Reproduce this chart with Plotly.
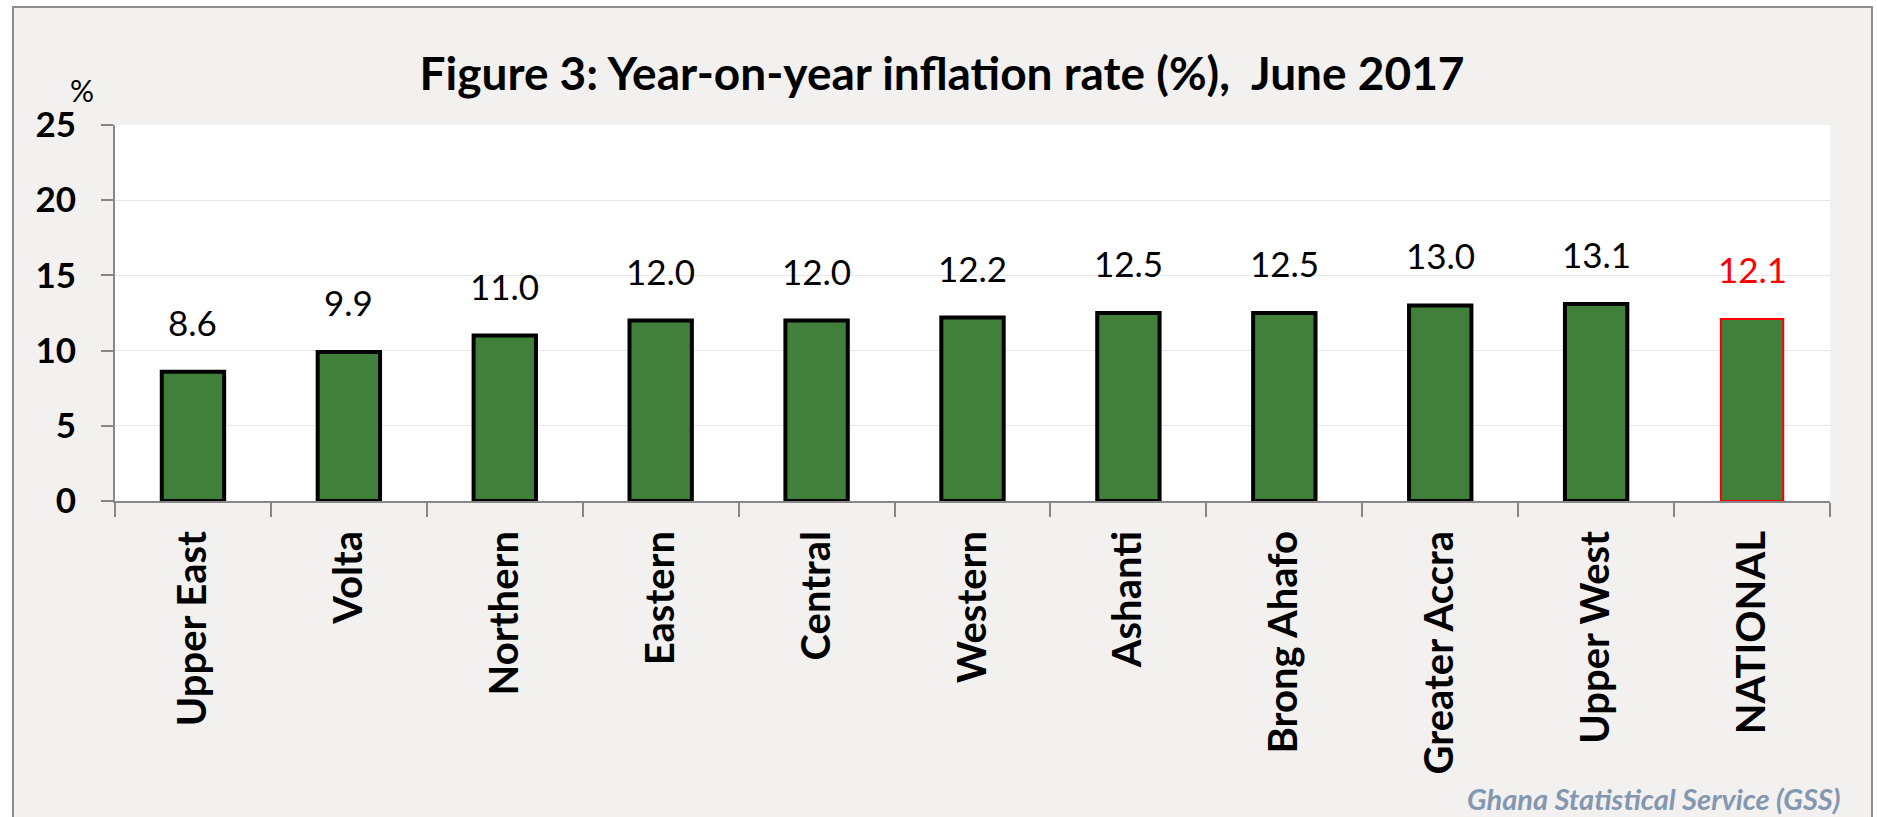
import plotly.graph_objects as go

regions = ["Upper East", "Volta", "Northern", "Eastern", "Central", "Western",
           "Ashanti", "Brong Ahafo", "Greater Accra", "Upper West", "NATIONAL"]
inflation = [8.6, 9.9, 11.0, 12.0, 12.0, 12.2, 12.5, 12.5, 13.0, 13.1, 12.1]
y_ticks = [0, 5, 10, 15, 20, 25]

W, H = 1877, 817
L, R, T, B = 115, 47, 125, 316
PW = W - L - R
PH = H - T - B


def px_x(p):
    return (p - L) / PW


def px_y(p):
    return (H - B - p) / PH


GREEN = "#41803A"
line_colors = ["#000000"] * (len(regions) - 1) + ["#FF0000"]
line_widths = [4] * (len(regions) - 1) + [2]
label_colors = ["#000000"] * (len(regions) - 1) + ["#FF0000"]

fig = go.Figure()
fig.add_trace(go.Bar(
    x=regions, y=inflation, width=0.40,
    marker=dict(color=GREEN, line=dict(color=line_colors, width=line_widths)),
    hoverinfo="x+y",
))

annotations = []
for r, v, c in zip(regions, inflation, label_colors):
    annotations.append(dict(
        x=r, y=v, xref="x", yref="y", text=f"{v:.1f}", showarrow=False,
        yanchor="bottom", yshift=27,
        font=dict(family="Lato", size=35, color=c),
    ))

annotations.append(dict(
    x=px_x(82), y=px_y(90), xref="paper", yref="paper", text="%",
    showarrow=False, xanchor="center", yanchor="middle",
    font=dict(family="Lato", size=30, color="#000000"),
))
annotations.append(dict(
    x=px_x(1843), y=px_y(798), xref="paper", yref="paper",
    text="<b><i>Ghana Statistical Service (GSS)</i></b>",
    showarrow=False, xanchor="right", yanchor="middle",
    font=dict(family="Lato", size=29, color="#8497B0"),
))

shapes = [
    # white strips outside the chart frame
    dict(type="rect", xref="paper", yref="paper", x0=px_x(-5), x1=px_x(13),
         y0=px_y(H + 5), y1=px_y(-5), fillcolor="white", line=dict(width=0), layer="above"),
    dict(type="rect", xref="paper", yref="paper", x0=px_x(-5), x1=px_x(W + 5),
         y0=px_y(7), y1=px_y(-5), fillcolor="white", line=dict(width=0), layer="above"),
    dict(type="rect", xref="paper", yref="paper", x0=px_x(1873), x1=px_x(W + 5),
         y0=px_y(H + 5), y1=px_y(-5), fillcolor="white", line=dict(width=0), layer="above"),
    # chart frame
    dict(type="rect", xref="paper", yref="paper", x0=px_x(13), x1=px_x(1872),
         y0=px_y(H + 2), y1=px_y(7), line=dict(color="#8C8C8C", width=2),
         fillcolor="rgba(0,0,0,0)", layer="above"),
]

fig.update_layout(
    width=W, height=H,
    margin=dict(l=L, r=R, t=T, b=B, pad=0),
    paper_bgcolor="#F3F1EF",
    plot_bgcolor="#FFFFFF",
    showlegend=False,
    title=dict(
        text="<b>Figure 3: Year-on-year inflation rate (%),  June 2017</b>",
        x=942 / W, xref="container", xanchor="center",
        y=1 - 74 / H, yref="container", yanchor="middle",
        font=dict(family="Lato", size=46, color="#000000"),
    ),
    annotations=annotations,
    shapes=shapes,
    bargap=0.6,
)

fig.update_yaxes(
    range=[0, 25], tickvals=y_ticks, ticktext=[str(t) for t in y_ticks],
    showgrid=True, gridcolor="#E8E8E8", gridwidth=1,
    showline=True, linecolor="#878787", linewidth=2,
    ticks="outside", ticklen=12, tickcolor="#878787", tickwidth=2,
    tickfont=dict(family="Lato", size=35, color="#000000", weight="bold"),
    ticklabelstandoff=18,
    zeroline=False, fixedrange=True,
)
fig.update_xaxes(
    type="category", tickangle=-90,
    showline=True, linecolor="#878787", linewidth=2,
    ticks="outside", ticklen=14, tickcolor="#878787", tickwidth=2,
    tickson="boundaries",
    tickfont=dict(family="Lato", size=40, color="#000000", weight="bold"),
    ticklabelstandoff=12,
    showgrid=False, fixedrange=True,
)

fig.write_html(
    "out.html",
    config={"displayModeBar": False},
    post_script="document.body.style.margin='0';document.body.style.overflow='hidden';",
)
